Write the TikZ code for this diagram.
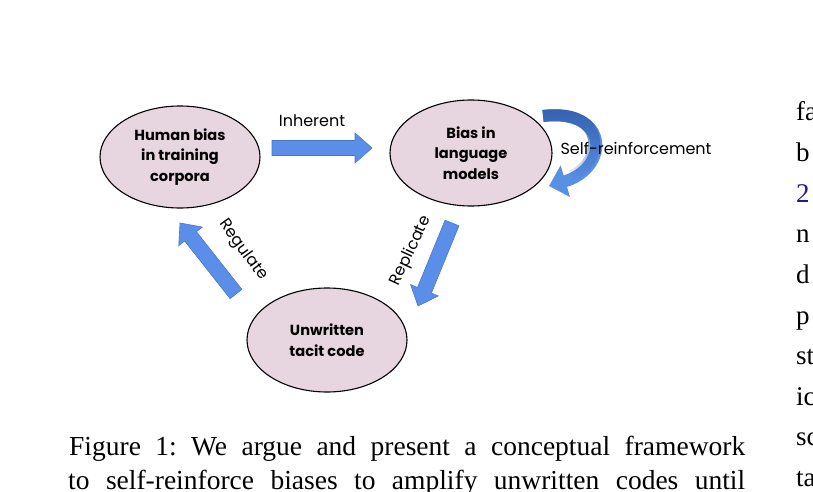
\documentclass[tikz,border=0pt]{standalone}
\usepackage{fontspec}
\setmainfont{Liberation Serif}
\newfontfamily\labfont{Poppins}
\usetikzlibrary{calc,arrows.meta,shapes.geometric,fadings}
\definecolor{ellfill}{HTML}{E7D5DF}
\definecolor{arrblue}{HTML}{5B8EE8}
\definecolor{arredge}{HTML}{4A78C8}
\definecolor{selflight}{HTML}{5A8FE6}
\definecolor{selfdark}{HTML}{3560AE}
\definecolor{citeblue}{HTML}{1C1C8E}
\frenchspacing
\tikzset{
  bubble/.style={ellipse, draw=black, line width=1.1pt, fill=ellfill,
    minimum width=160pt, minimum height=102pt, inner sep=0pt, align=center,
    font=\labfont\bfseries\fontsize{14.6}{20.5}\selectfont},
  flow/.style={fill=arrblue, draw=arredge, line width=0.6pt},
  elabel/.style={font=\labfont\fontsize{16}{18}\selectfont, inner sep=0pt},
  capline/.style={anchor=base west, inner sep=0pt, font=\fontsize{27.5}{33}\selectfont},
  coltext/.style={anchor=base west, inner sep=0pt, font=\fontsize{27}{33}\selectfont},
}
\newcommand\blockarrow[2]{%
  \coordinate (bah) at ($(#2)!17pt!(#1)$);
  \filldraw[flow] ($(#1)!7.5pt!90:(#2)$) -- ($(bah)!7.5pt!-90:(#1)$)
    -- ($(bah)!15pt!-90:(#1)$) -- (#2) -- ($(bah)!15pt!90:(#1)$)
    -- ($(bah)!7.5pt!90:(#1)$) -- ($(#1)!7.5pt!-90:(#2)$) -- cycle;}
\begin{document}
\begin{tikzpicture}[x=1pt,y=-1pt]
\useasboundingbox (0,0) rectangle (813,492);
\clip (0,0) rectangle (813,492);
\fill[white] (0,0) rectangle (813,492);

% nodes
\node[bubble] (human) at (180,157) {Human bias\\in training\\corpora};
\node[bubble, minimum width=162pt, minimum height=106pt] (model) at (471,153) {Bias in\\language\\models};
\node[bubble, minimum height=104pt] (tacit) at (327,340) {Unwritten\\tacit code};

% arrow end points
\coordinate (inhA) at (272,148);
\coordinate (inhB) at (372,148);
\coordinate (regA) at (236,294);
\coordinate (regB) at (180,223);
\coordinate (repA) at (452,223);
\coordinate (repB) at (418,306);
\coordinate (selfA) at (543,116);
\coordinate (selfB) at (549,186);

\blockarrow{inhA}{inhB}
\blockarrow{regA}{regB}
\blockarrow{repA}{repB}

% self-reinforcement curved arrow
\draw[selflight, line width=12pt, -{Triangle[length=17pt,width=32pt]}]
  (selfA) .. controls (610,108) and (610,168) .. (selfB);
\draw[selfdark, line width=12pt, path fading=south]
  (selfA) .. controls (576.5,112) and (593.25,125) .. (594,141.25)
  .. controls (594.75,157.5) and (585,170) .. (572,176);

% labels
\node[elabel] (linh) at (312,121) {Inherent};
\node[elabel] (lself) at (636,148) {Self-reinforcement};
\node[elabel, rotate=-54] (lreg) at (243,250) {Regulate};
\node[elabel, rotate=65] (lrep) at (411,251) {Replicate};

% caption
\node[capline] (cap1) at (69,455) {\makebox[676pt][s]{Figure 1: We argue and present a conceptual framework}};
\node[capline] (cap2) at (68,489) {\makebox[677pt][s]{to self-reinforce biases to amplify unwritten codes until}};

% cut-off right column
\node[coltext] (c1) at (796,121) {fa};
\node[coltext] (c2) at (796,161.6) {b};
\node[coltext, text=citeblue] (c3) at (796,202.2) {2};
\node[coltext] (c4) at (796,242.8) {n};
\node[coltext] (c5) at (796,283.4) {d};
\node[coltext] (c6) at (796,324) {p};
\node[coltext] (c7) at (796,364.6) {st};
\node[coltext] (c8) at (796,405.2) {ic};
\node[coltext] (c9) at (796,445.8) {sc};
\node[coltext] (c10) at (796,486.4) {ta};
\end{tikzpicture}
\end{document}
